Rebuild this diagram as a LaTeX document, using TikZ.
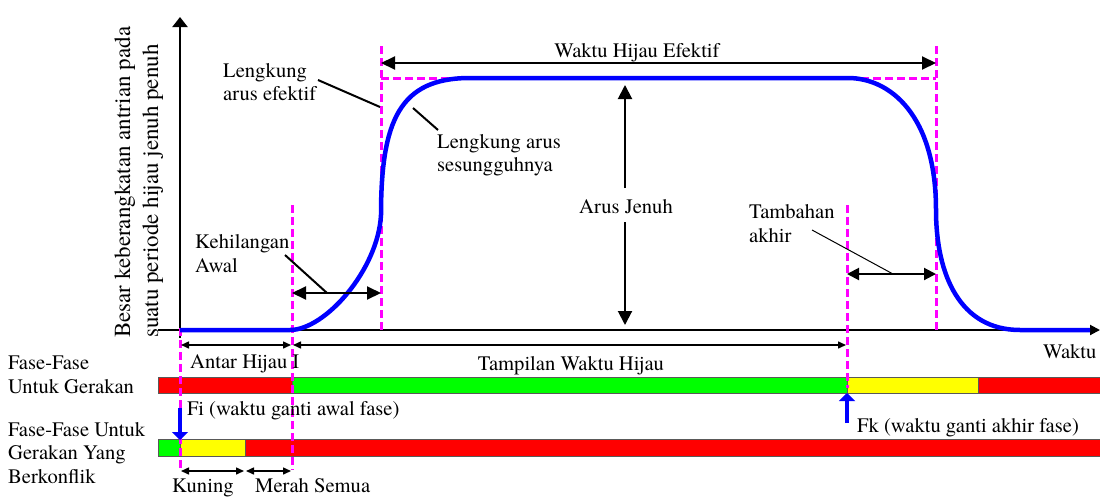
\documentclass[tikz,border=0pt]{standalone}
\usepackage{fontspec}
\setmainfont{texgyretermes-regular.otf}
\usetikzlibrary{arrows.meta}
\definecolor{mag}{RGB}{255,0,255}
\definecolor{sigred}{RGB}{255,0,0}
\definecolor{siggreen}{RGB}{0,255,0}
\definecolor{sigyellow}{RGB}{255,255,0}
\definecolor{curveblue}{RGB}{0,0,255}
\begin{document}
\begin{tikzpicture}[x=1pt,y=-1pt,
  lbl/.style={font=\fontsize{20.6}{23}\selectfont, inner sep=0pt, anchor=base west},
  lblc/.style={lbl, anchor=base},
  ylbl/.style={font=\fontsize{23}{26}\selectfont, inner sep=0pt, anchor=base west, rotate=90},
  mdash/.style={draw=mag, line width=3pt, dash pattern=on 8pt off 4pt},
  curve/.style={draw=curveblue, line width=4.5pt},
  axis/.style={draw=black, line width=2pt},
  dbl/.style={line width=2pt, {Triangle[length=14pt,width=13pt]}-{Triangle[length=14pt,width=13pt]}},
  sgl/.style={line width=2pt, -{Triangle[length=14pt,width=14pt]}},
  dbls/.style={line width=1.5pt, {Triangle[length=8pt,width=7pt]}-{Triangle[length=8pt,width=7pt]}},
  leader/.style={line width=2pt},
  thinleader/.style={line width=1pt},
  barseg/.style={draw=black!65, line width=0.7pt},
  bluearr/.style={draw=curveblue, line width=4pt, -{Triangle[length=8pt,width=16pt]}},
]
\useasboundingbox (0,0) rectangle (1100,498);

% ---------- phase bars ----------
\path[barseg, fill=sigred]    (158,377) rectangle (292,393);
\path[barseg, fill=siggreen]  (292,377) rectangle (847,393);
\path[barseg, fill=sigyellow] (847,377) rectangle (978,393);
\path[barseg, fill=sigred]    (978,377) rectangle (1100,393);

\path[barseg, fill=siggreen]  (158,439) rectangle (180,456);
\path[barseg, fill=sigyellow] (180,439) rectangle (245,456);
\path[barseg, fill=sigred]    (245,439) rectangle (1100,456);

% ---------- axes ----------
\coordinate (yb) at (180,338);
\coordinate (yt) at (180,17);
\coordinate (xb) at (158,330);
\coordinate (xt) at (1100,330);
\draw[axis, -{Triangle[length=10pt,width=15pt]}] (yb) -- (yt);
\draw[axis, -{Triangle[length=10pt,width=10pt]}] (xb) -- (xt);

% ---------- magenta dashed guides ----------
\coordinate (m1a) at (180,328); \coordinate (m1b) at (180,470);
\coordinate (m2a) at (292,205); \coordinate (m2b) at (292,470);
\coordinate (m3a) at (381,46);  \coordinate (m3b) at (381,330);
\coordinate (m4a) at (847,205); \coordinate (m4b) at (847,388);
\coordinate (m5a) at (936,46);  \coordinate (m5b) at (936,330);
\coordinate (mta) at (381,78);  \coordinate (mtb) at (936,78);
\draw[mdash] (m1a) -- (m1b);
\draw[mdash] (m2a) -- (m2b);
\draw[mdash] (m3a) -- (m3b);
\draw[mdash] (m4a) -- (m4b);
\draw[mdash] (m5a) -- (m5b);
\draw[mdash] (mta) -- (mtb);

% ---------- flow curve ----------
\draw[curve] (180,330) -- (290,330)
  .. controls (325,330) and (378,270) .. (381,215)
  .. controls (381,120) and (400,78) .. (470,78)
  -- (848,78)
  .. controls (890,78) and (936,115) .. (936,210)
  .. controls (936,275) and (960,330) .. (1020,330)
  -- (1090,330);

% ---------- dimension arrows ----------
\coordinate (whl) at (381,63); \coordinate (whr) at (936,63);
\draw[dbl] (whl) -- (whr);
\node[lblc] (wh) at (637,57) {Waktu Hijau Efektif};

\coordinate (ajt) at (625,85); \coordinate (aj1) at (625,188);
\coordinate (aj2) at (625,222); \coordinate (ajb) at (625,325);
\draw[sgl] (aj1) -- (ajt);
\draw[sgl] (aj2) -- (ajb);
\node[lblc] (aj) at (626,213) {Arus Jenuh};

\coordinate (kal) at (292,293); \coordinate (kar) at (381,293);
\draw[dbl] (kal) -- (kar);
\coordinate (tal) at (847,274); \coordinate (tar) at (936,274);
\draw[line width=2pt, {Triangle[length=12pt,width=12pt]}-{Triangle[length=12pt,width=12pt]}] (tal) -- (tar);

\coordinate (ahl) at (181,345); \coordinate (ahr) at (291,345);
\coordinate (twl) at (293,345); \coordinate (twr) at (846,345);
\draw[dbls] (ahl) -- (ahr);
\draw[dbls] (twl) -- (twr);

\coordinate (kul) at (181,471); \coordinate (kur) at (244,471);
\coordinate (msl) at (246,471); \coordinate (msr) at (291,471);
\draw[dbls] (kul) -- (kur);
\draw[dbls] (msl) -- (msr);

% ---------- labels ----------
\node[lbl] (le1) at (223,77) {Lengkung};
\node[lbl] (le2) at (223,100) {arus efektif};
\coordinate (le1s) at (318,80); \coordinate (le1e) at (380,107);
\draw[leader] (le1s) -- (le1e);

\node[lbl] (ls1) at (437,148) {Lengkung arus};
\node[lbl] (ls2) at (437,171) {sesungguhnya};
\coordinate (ls1s) at (413,108); \coordinate (ls1e) at (438,130);
\draw[leader] (ls1s) -- (ls1e);

\node[lbl] (ka1) at (195,248) {Kehilangan};
\node[lbl] (ka2) at (195,272) {Awal};
\coordinate (kas) at (285,255); \coordinate (kae) at (327,293);
\draw[leader] (kas) -- (kae);

\node[lbl] (ta1) at (749,218) {Tambahan};
\node[lbl] (ta2) at (749,242) {akhir};
\coordinate (tas) at (812,230); \coordinate (tae) at (893,274);
\draw[thinleader] (tas) -- (tae);

\node[ylbl] (yl1) at (130,338) {Besar keberangkatan antrian pada};
\node[ylbl] (yl2) at (158,338) {suatu periode hijau jenuh penuh};

\node[lbl] (ah) at (190,368) {Antar Hijau I};
\node[lblc] (tw) at (571,370) {Tampilan Waktu Hijau};
\node[lbl] (wk) at (1043,358) {Waktu};

\node[lbl] (ff1) at (8,369) {Fase-Fase};
\node[lbl] (ff2) at (8,393) {Untuk Gerakan};
\node[lbl] (fi) at (187,415) {Fi (waktu ganti awal fase)};
\node[lbl] (fc1) at (8,436) {Fase-Fase Untuk};
\node[lbl] (fc2) at (8,459) {Gerakan Yang};
\node[lbl] (fc3) at (8,483) {Berkonflik};
\node[lbl] (ku) at (172,492.5) {Kuning};
\node[lbl] (ms) at (255,492.5) {Merah Semua};
\node[lbl] (fk) at (857,432) {Fk (waktu ganti akhir fase)};

% ---------- blue phase-change arrows ----------
\coordinate (fis) at (180,408); \coordinate (fie) at (180,440);
\draw[bluearr] (fis) -- (fie);
\coordinate (fks) at (847,423); \coordinate (fke) at (847,393);
\draw[bluearr] (fks) -- (fke);
\end{tikzpicture}
\end{document}
